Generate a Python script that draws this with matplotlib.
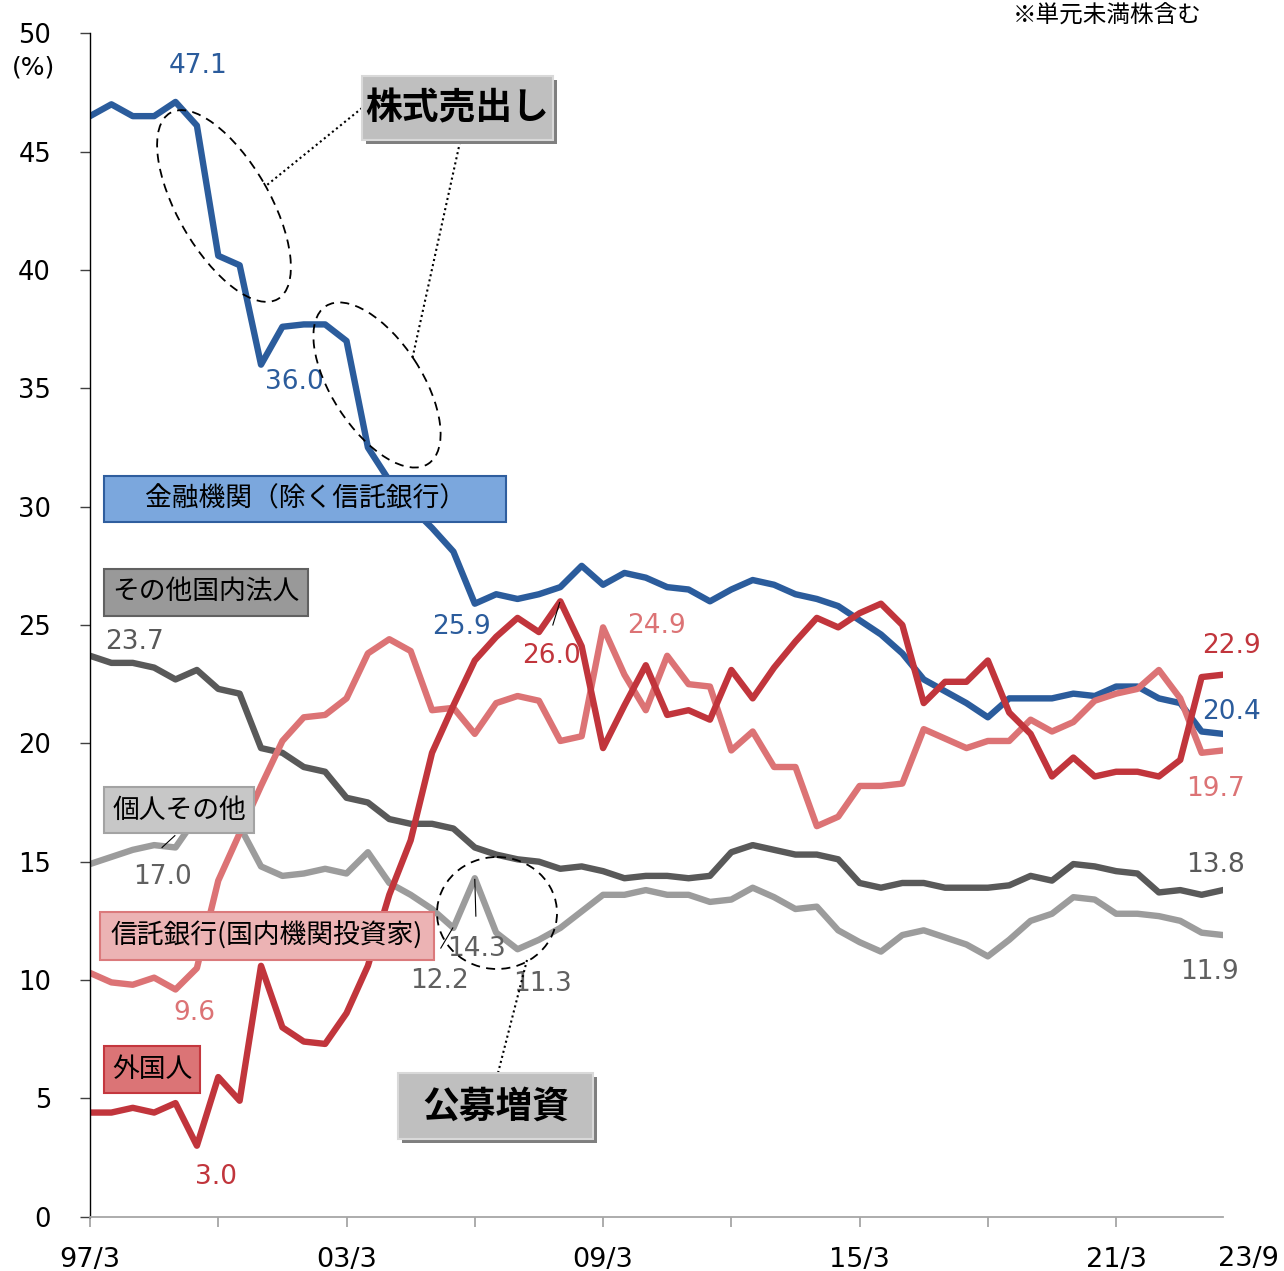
import numpy as np
import matplotlib.pyplot as plt
from matplotlib.patches import Rectangle, Ellipse
from matplotlib.transforms import Affine2D

plt.rcParams['font.family'] = ['DejaVu Sans', 'Noto Sans CJK JP']
JP = ['Noto Sans CJK JP', 'DejaVu Sans']

# shareholder composition, half-yearly from 97/3 to 23/9 (%)
fin = [46.5, 47.0, 46.5, 46.5, 47.1, 46.1, 40.6, 40.2, 36.0, 37.6,
       37.7, 37.7, 37.0, 32.5, 31.1, 30.0, 29.1, 28.1, 25.9, 26.3,
       26.1, 26.3, 26.6, 27.5, 26.7, 27.2, 27.0, 26.6, 26.5, 26.0,
       26.5, 26.9, 26.7, 26.3, 26.1, 25.8, 25.2, 24.6, 23.8, 22.7,
       22.2, 21.7, 21.1, 21.9, 21.9, 21.9, 22.1, 22.0, 22.4, 22.4,
       21.9, 21.7, 20.5, 20.4]
foreign = [4.4, 4.4, 4.6, 4.4, 4.8, 3.0, 5.9, 4.9, 10.6, 8.0,
           7.4, 7.3, 8.6, 10.6, 13.6, 15.9, 19.6, 21.6, 23.5, 24.5,
           25.3, 24.7, 26.0, 24.1, 19.8, 21.6, 23.3, 21.2, 21.4, 21.0,
           23.1, 21.9, 23.2, 24.3, 25.3, 24.9, 25.5, 25.9, 25.0, 21.7,
           22.6, 22.6, 23.5, 21.3, 20.4, 18.6, 19.4, 18.6, 18.8, 18.8,
           18.6, 19.3, 22.8, 22.9]
trust = [10.3, 9.9, 9.8, 10.1, 9.6, 10.5, 14.2, 16.2, 18.2, 20.1,
         21.1, 21.2, 21.9, 23.8, 24.4, 23.9, 21.4, 21.5, 20.4, 21.7,
         22.0, 21.8, 20.1, 20.3, 24.9, 22.9, 21.4, 23.7, 22.5, 22.4,
         19.7, 20.5, 19.0, 19.0, 16.5, 16.9, 18.2, 18.2, 18.3, 20.6,
         20.2, 19.8, 20.1, 20.1, 21.0, 20.5, 20.9, 21.8, 22.1, 22.3,
         23.1, 21.9, 19.6, 19.7]
other_corp = [23.7, 23.4, 23.4, 23.2, 22.7, 23.1, 22.3, 22.1, 19.8, 19.6,
              19.0, 18.8, 17.7, 17.5, 16.8, 16.6, 16.6, 16.4, 15.6, 15.3,
              15.1, 15.0, 14.7, 14.8, 14.6, 14.3, 14.4, 14.4, 14.3, 14.4,
              15.4, 15.7, 15.5, 15.3, 15.3, 15.1, 14.1, 13.9, 14.1, 14.1,
              13.9, 13.9, 13.9, 14.0, 14.4, 14.2, 14.9, 14.8, 14.6, 14.5,
              13.7, 13.8, 13.6, 13.8]
individual = [14.9, 15.2, 15.5, 15.7, 15.6, 16.9, 17.0, 16.5, 14.8, 14.4,
              14.5, 14.7, 14.5, 15.4, 14.1, 13.6, 13.0, 12.2, 14.3, 12.0,
              11.3, 11.7, 12.2, 12.9, 13.6, 13.6, 13.8, 13.6, 13.6, 13.3,
              13.4, 13.9, 13.5, 13.0, 13.1, 12.1, 11.6, 11.2, 11.9, 12.1,
              11.8, 11.5, 11.0, 11.7, 12.5, 12.8, 13.5, 13.4, 12.8, 12.8,
              12.7, 12.5, 12.0, 11.9]

xtick_pos = [0, 6, 12, 18, 24, 30, 36, 42, 48]
xtick_lab = ['97/3', '', '03/3', '', '09/3', '', '15/3', '', '21/3']
last_label = '23/9'

C_FIN, C_FOR, C_TRU, C_OTH, C_IND = '#2B5C9C', '#C1353C', '#DC7375', '#595959', '#9C9C9C'

W, H = 1284, 1271
fig = plt.figure(figsize=(W / 100, H / 100), dpi=100)
ax = fig.add_axes([90 / W, 1 - 1216.7 / H, 1133 / W, 1183.4 / H])
# top-down pixel space for the callouts and boxes
PX = Affine2D().scale(1 / W, -1 / H).translate(0, 1) + fig.transFigure

x = np.arange(len(fin))
for vals, col in [(individual, C_IND), (other_corp, C_OTH), (fin, C_FIN),
                  (trust, C_TRU), (foreign, C_FOR)]:
    ax.plot(x, vals, color=col, lw=4.6, solid_joinstyle='round')

ax.set_xlim(0, 53)
ax.set_ylim(0, 50)
ax.set_yticks(range(0, 51, 5))
ax.set_xticks(xtick_pos)
ax.set_xticklabels(xtick_lab)
ax.tick_params(axis='y', length=7, width=1, color='#404040', pad=21, labelsize=18.5)
ax.tick_params(axis='x', length=7, width=1.3, color='#A6A6A6', pad=14.5, labelsize=19.5)
for s in ('top', 'right'):
    ax.spines[s].set_visible(False)
ax.spines['left'].set_linewidth(1.0)
ax.spines['bottom'].set_color('#A6A6A6')
ax.spines['bottom'].set_linewidth(1.3)
fig.text(1248, 1259, last_label, transform=PX, ha='center', va='center', fontsize=19.5)

fig.text(34, 67, '(%)', transform=PX, ha='center', va='center', fontsize=18)
fig.text(1202, 16, '※単元未満株含む', transform=PX, ha='right', va='center',
         fontsize=17, family=JP)

# data labels: (series, index, label x, label y, colour)
labels = [(fin, 4, 5.05, 48.6, C_FIN), (fin, 8, 9.54, 35.26, C_FIN),
          (fin, 18, 17.39, 24.91, C_FIN), (fin, 53, 53.39, 21.33, C_FIN),
          (foreign, 22, 21.6, 23.69, C_FOR), (foreign, 53, 53.39, 24.11, C_FOR),
          (foreign, 5, 5.89, 1.68, C_FOR),
          (trust, 24, 26.51, 24.95, C_TRU), (trust, 53, 52.64, 18.07, C_TRU),
          (trust, 4, 4.86, 8.6, C_TRU),
          (other_corp, 0, 2.06, 24.28, C_OTH), (other_corp, 53, 52.64, 14.86, C_OTH),
          (individual, 6, 3.37, 14.35, '#606060'), (individual, 18, 18.09, 11.31, '#606060'),
          (individual, 17, 16.36, 9.96, '#606060'), (individual, 20, 21.18, 9.83, '#606060'),
          (individual, 53, 52.36, 10.34, '#606060')]
for ser, i, lx, ly, col in labels:
    ax.text(lx, ly, f"{ser[i]:.1f}", color=col, fontsize=19, ha='center', va='center',
            clip_on=False, zorder=6)

# leader lines from labels to their points
for (x0, y0), (x1, y1) in [((21.65, 25.0), (21.97, 25.95)),
                           ((18.05, 12.7), (18.0, 14.25)),
                           ((16.41, 11.35), (16.97, 12.2)),
                           ((3.37, 15.6), (3.97, 16.1))]:
    ax.plot([x0, x1], [y0, y1], color='black', lw=0.8, zorder=6)


def series_box(x0, y0, x1, y1, text, fc, ec):
    fig.add_artist(Rectangle((x0, y0), x1 - x0, y1 - y0, transform=PX,
                             fc=fc, ec=ec, lw=1.5, zorder=5))
    fig.text((x0 + x1) / 2, (y0 + y1) / 2, text, transform=PX, ha='center',
             va='center', fontsize=19.3, family=JP, color='black', zorder=6)


series_box(104, 476, 506, 522, '金融機関（除く信託銀行）', '#7BA7DD', '#2F5E9E')
series_box(104, 569, 308, 616, 'その他国内法人', '#999999', '#616161')
series_box(104, 787, 254, 833, '個人その他', '#C7C7C7', '#A3A3A3')
series_box(100, 912, 434, 960, '信託銀行(国内機関投資家)', '#ECB3B4', '#DB7A7C')
series_box(104, 1046, 200, 1093, '外国人', '#DB7476', '#C4373E')


def callout(x0, y0, x1, y1, text):
    fig.add_artist(Rectangle((x0 + 4, y0 + 4), x1 - x0, y1 - y0, transform=PX,
                             fc='#7F7F7F', ec='none', zorder=5))
    fig.add_artist(Rectangle((x0, y0), x1 - x0, y1 - y0, transform=PX,
                             fc='#BFBFBF', ec='#D9D9D9', lw=1.5, zorder=5))
    fig.text((x0 + x1) / 2, (y0 + y1) / 2 + 1, text, transform=PX, ha='center',
             va='center', fontsize=26.5, fontweight='bold', family=JP, zorder=6)


callout(362, 76, 553, 140, '株式売出し')
callout(398, 1073, 593, 1139, '公募増資')

for cx, cy, w, h, ang in [(224, 206, 215, 92, 60), (377, 385, 188, 90, 57),
                          (497, 913, 120, 112, 0)]:
    fig.add_artist(Ellipse((cx, cy), w, h, angle=ang, transform=PX, fill=False,
                           ec='black', lw=1.3, ls=(0, (5, 3.5)), zorder=4))

for (x0, y0), (x1, y1) in [((362, 108), (267, 185)), ((460, 142), (412, 360)),
                           ((498, 1073), (527, 960))]:
    fig.add_artist(plt.Line2D([x0, x1], [y0, y1], transform=PX, color='black',
                              lw=1.5, ls=(0, (1, 1.5)), zorder=4))

fig.savefig('out.png', dpi=100)
